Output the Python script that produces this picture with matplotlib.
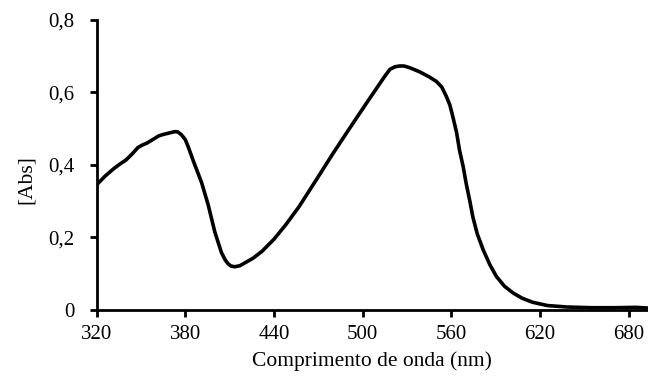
import matplotlib
matplotlib.use("Agg")
import matplotlib.pyplot as plt
from matplotlib.ticker import FuncFormatter

# absorption spectrum
wavelength = [320, 326, 332, 336, 340, 344, 348, 351, 354, 358, 362, 365, 368, 371,
              373, 375, 377.5, 380, 382, 386, 391, 395.5, 400, 404.5, 407, 409,
              411, 413.5, 417, 420, 426, 432, 440, 448, 457, 468, 480, 491,
              502.5, 510, 515, 518.5, 522, 525, 528, 532, 538.5, 545, 550,
              553.5, 556.5, 559, 561, 563.5, 565.5, 568, 570, 572.5, 574.5,
              577.5, 581.5, 586, 590.5, 596, 602, 608, 615, 625, 638, 655, 670,
              685, 693]
absorb = [0.345, 0.37, 0.391, 0.403, 0.414, 0.43, 0.448, 0.455, 0.46, 0.47,
          0.48, 0.484, 0.487, 0.49, 0.492, 0.491, 0.483, 0.47, 0.45, 0.405,
          0.352, 0.29, 0.215, 0.158, 0.138, 0.127, 0.121, 0.119, 0.122,
          0.129, 0.143, 0.162, 0.195, 0.235, 0.285, 0.355, 0.432, 0.5, 0.57,
          0.615, 0.645, 0.664, 0.671, 0.673, 0.673, 0.668, 0.657, 0.643,
          0.63, 0.615, 0.59, 0.565, 0.533, 0.49, 0.441, 0.395, 0.349, 0.3,
          0.257, 0.21, 0.166, 0.125, 0.092, 0.065, 0.046, 0.032, 0.021,
          0.012, 0.008, 0.006, 0.006, 0.007, 0.005]

xticks = [320, 380, 440, 500, 560, 620, 680]
yticks = [0, 0.2, 0.4, 0.6, 0.8]

plt.rcParams["font.family"] = ["Liberation Serif", "DejaVu Serif"]

fig = plt.figure(figsize=(6.48, 3.77), dpi=100)
ax = fig.add_axes([0.149, 0.178, 0.851, 0.769])

ax.plot(wavelength, absorb, color="black", lw=2.6,
        solid_capstyle="round", solid_joinstyle="round")

ax.set_xlim(320, 693)
ax.set_ylim(0, 0.8)
ax.set_xticks(xticks)
ax.set_yticks(yticks)
ax.yaxis.set_major_formatter(FuncFormatter(lambda v, p: "0" if v == 0 else f"{v:.1f}".replace(".", ",")))

for s in ["top", "right"]:
    ax.spines[s].set_visible(False)
for s in ["left", "bottom"]:
    ax.spines[s].set_linewidth(2)
ax.tick_params(width=2, length=5, labelsize=15, direction="out")
ax.tick_params(axis="y", pad=11)
ax.tick_params(axis="x", pad=6)

ax.set_xlabel("Comprimento de onda (nm)", fontsize=15.5, labelpad=5)
ax.set_ylabel("[Abs]", fontsize=15.5)
ax.yaxis.set_label_coords(-0.11, 0.45)

fig.savefig("out.png", dpi=100)
